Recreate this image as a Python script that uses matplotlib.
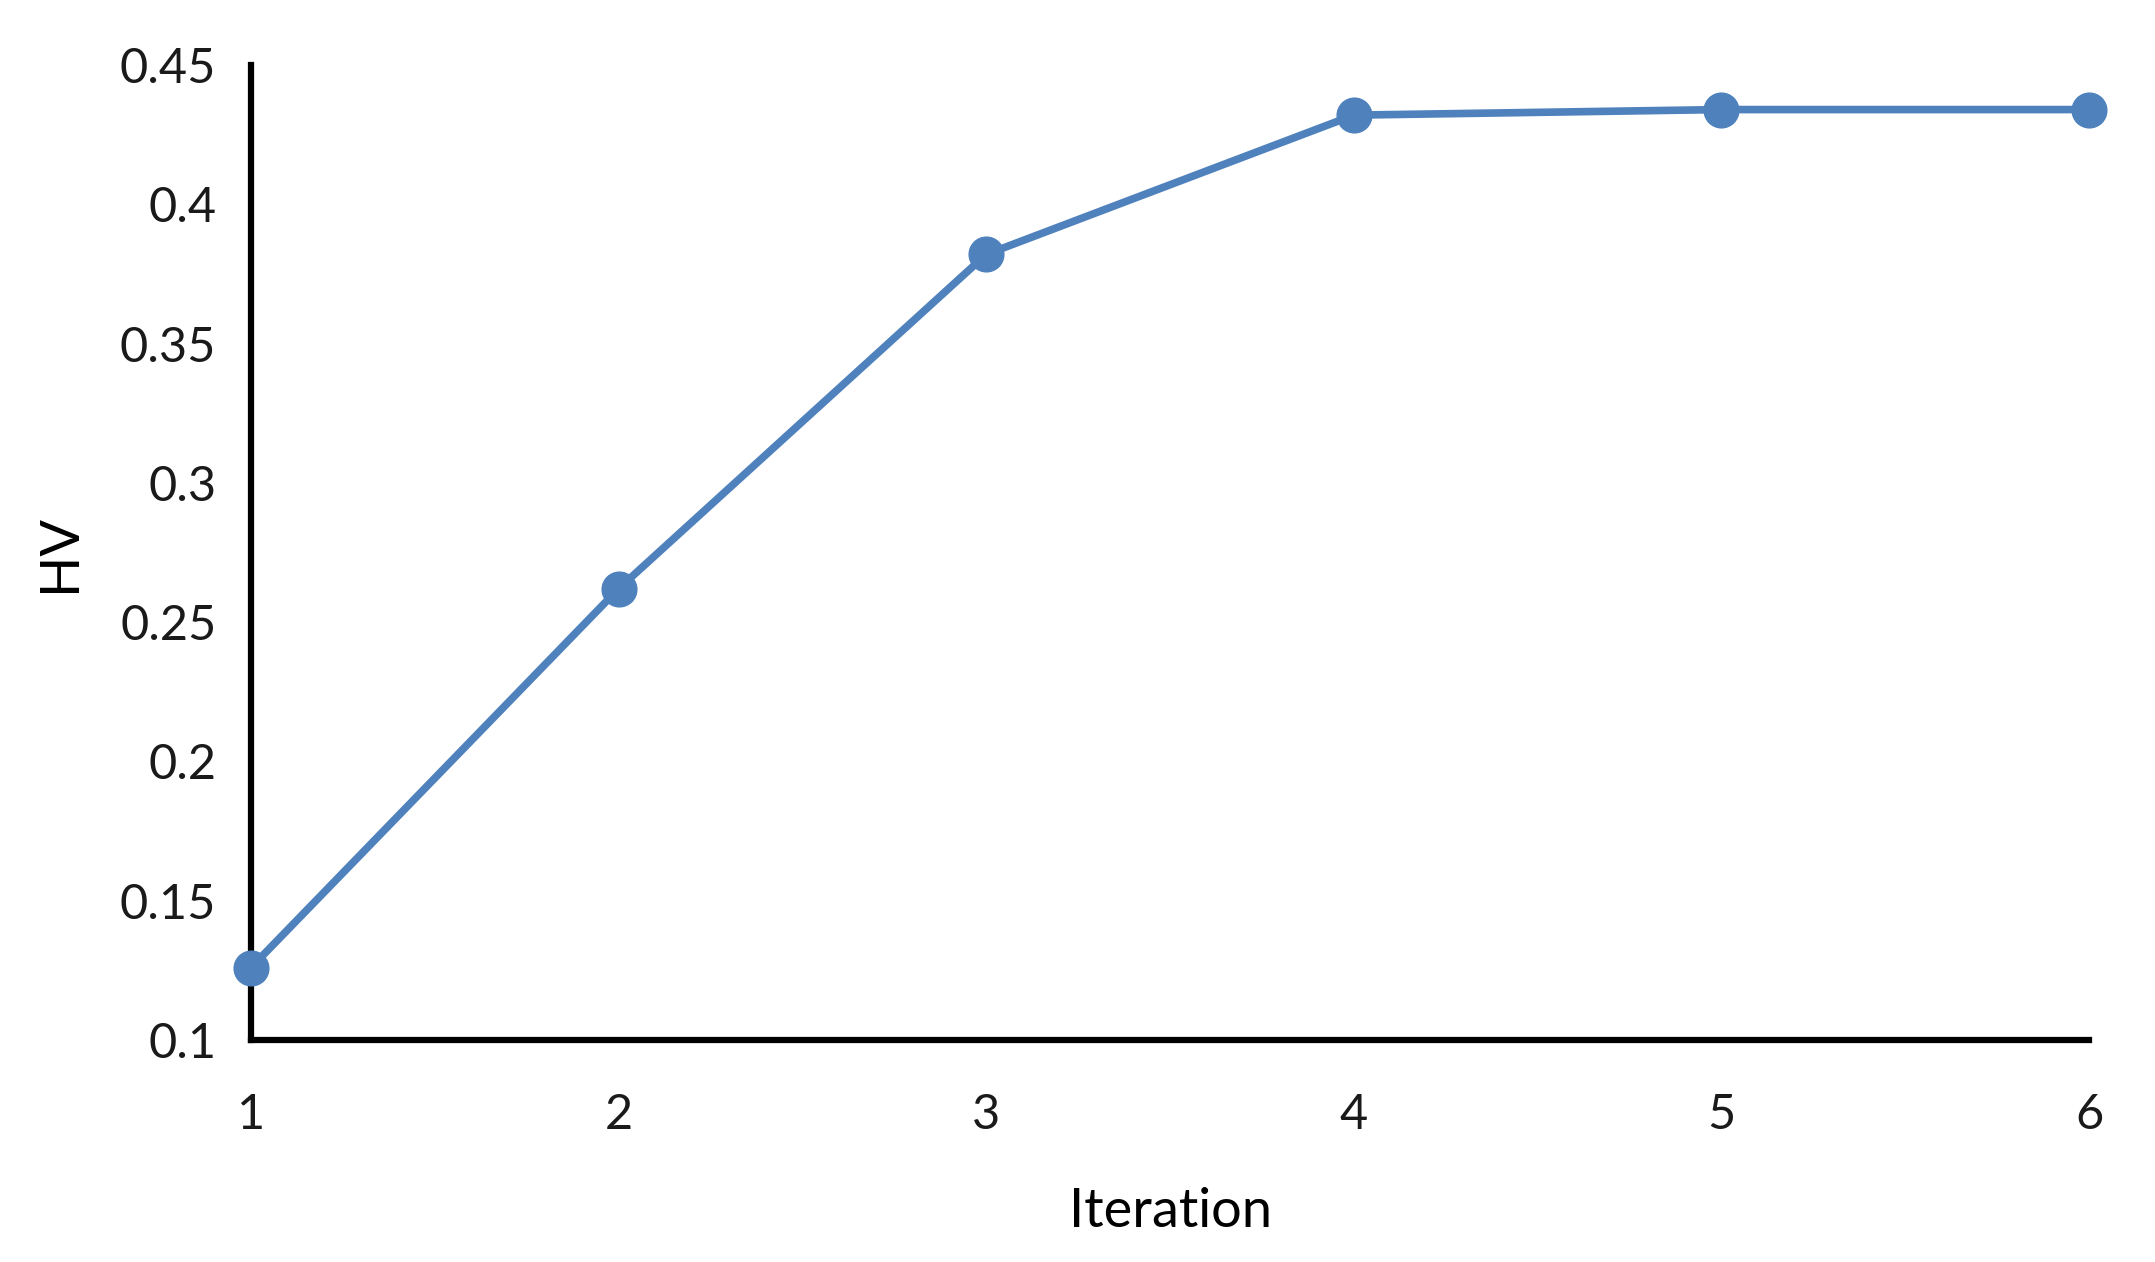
import matplotlib
matplotlib.use("Agg")
import matplotlib.pyplot as plt

iterations = [1, 2, 3, 4, 5, 6]
hv_values = [0.126, 0.262, 0.382, 0.432, 0.434, 0.434]
y_ticks = [0.1, 0.15, 0.2, 0.25, 0.3, 0.35, 0.4, 0.45]
y_tick_labels = ["0.1", "0.15", "0.2", "0.25", "0.3", "0.35", "0.4", "0.45"]

plt.rcParams['font.family'] = ['Lato', 'DejaVu Sans']

fig = plt.figure(figsize=(21.55, 12.62), dpi=100)
ax = fig.add_axes([251/2155, 1 - 1040/1262, (2089-251)/2155, (1040-65)/1262])

ax.plot(iterations, hv_values, color="#4F81BD", linewidth=5.5, marker="o",
        markersize=25, clip_on=False, zorder=3)

ax.set_xlim(1, 6)
ax.set_ylim(0.1, 0.45)
ax.set_xticks(iterations)
ax.set_xticklabels([str(i) for i in iterations])
ax.set_yticks(y_ticks)
ax.set_yticklabels(y_tick_labels)

for s in ["top", "right"]:
    ax.spines[s].set_visible(False)
for s in ["left", "bottom"]:
    ax.spines[s].set_linewidth(4.5)
    ax.spines[s].set_color("black")

ax.tick_params(axis="both", length=0, labelsize=35, colors="#1a1a1a")
ax.tick_params(axis="x", pad=38)
ax.tick_params(axis="y", pad=25)

ax.set_xlabel("Iteration", fontsize=39, labelpad=36)
ax.set_ylabel("HV", fontsize=39, labelpad=26)

fig.savefig("out.png", dpi=100)
